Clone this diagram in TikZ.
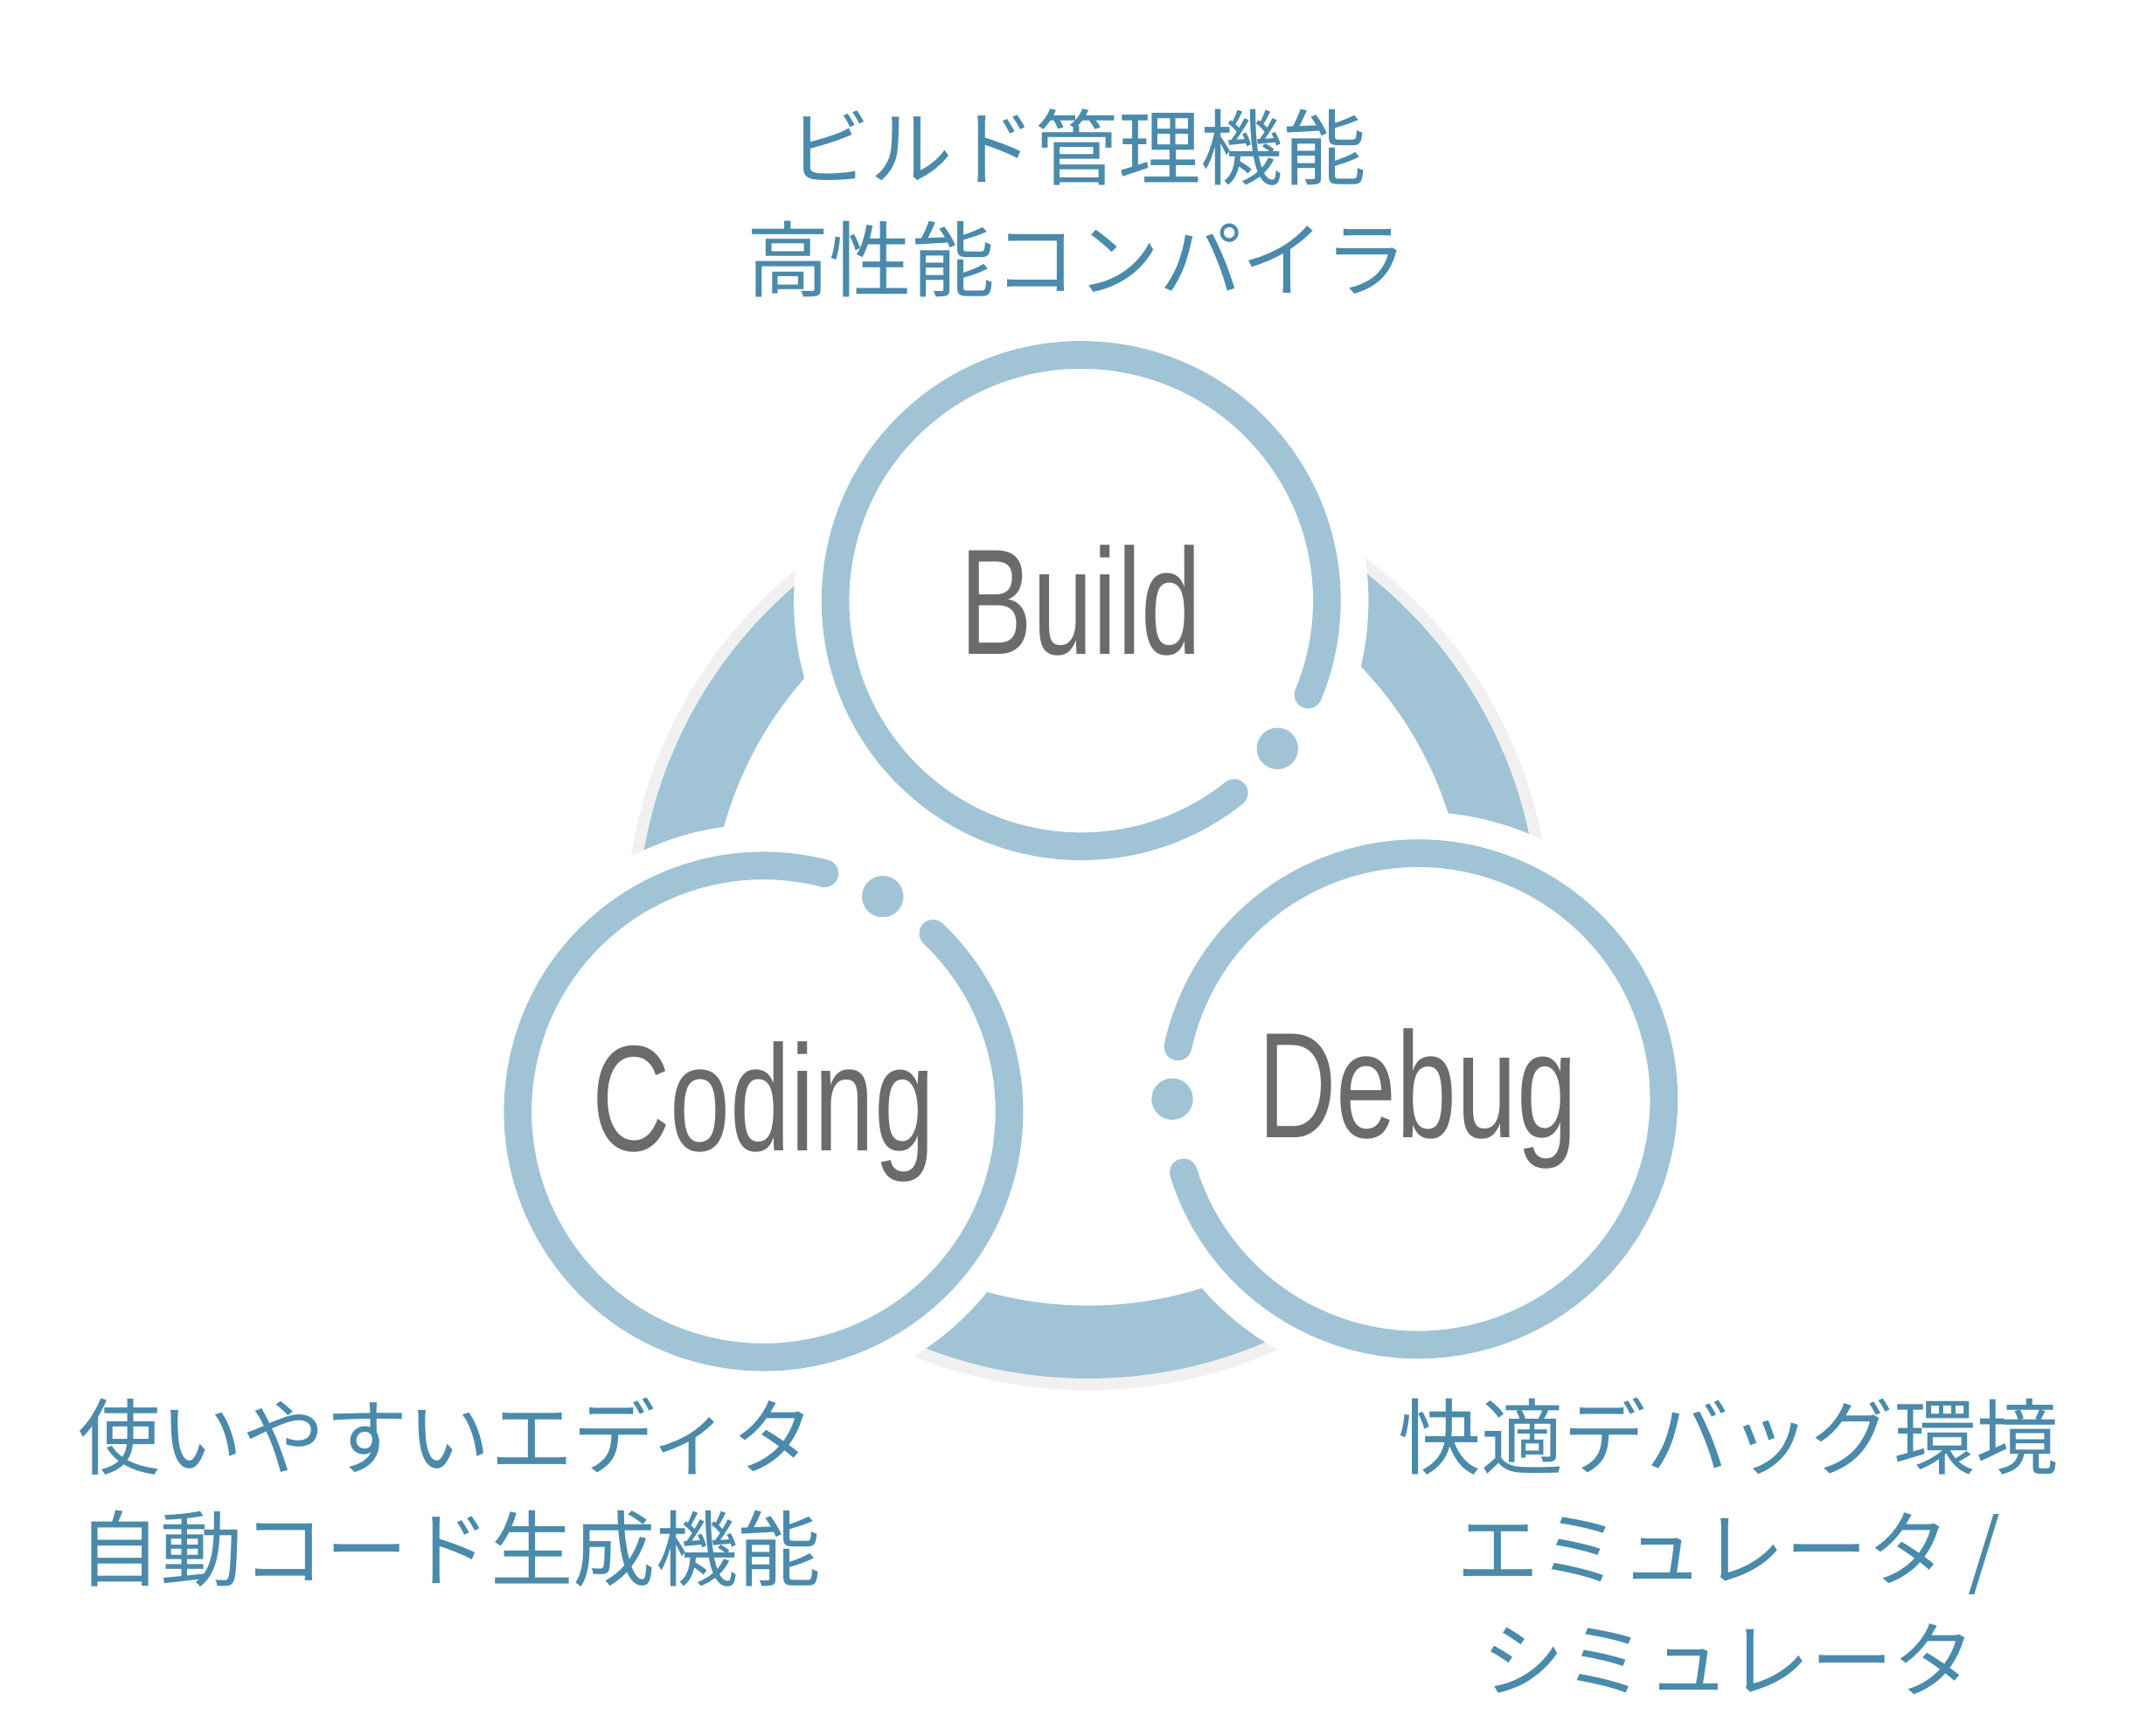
\documentclass[tikz,border=0pt]{standalone}
\usepackage{fontspec}
\newfontfamily\condfont[FakeStretch=0.72]{Liberation Sans}
\newfontfamily\cjk{Noto Sans CJK JP}
\usetikzlibrary{positioning}
\definecolor{ringblue}{HTML}{A0C4D6}
\definecolor{textblue}{HTML}{4A8AAB}
\definecolor{wordgray}{HTML}{6B6B6B}
\tikzset{
  ring/.style={draw=ringblue, line width=5.7pt, line cap=round},
  halo/.style={draw=white, fill=white, line width=8pt},
  dot/.style={fill=ringblue},
  word/.style={font=\condfont\fontsize{31}{31}\selectfont, text=wordgray},
  note/.style={font=\cjk\fontsize{17}{23}\selectfont, text=textblue, align=center}
}
\begin{document}
\begin{tikzpicture}[x=0.01cm, y=-0.01cm]
  \useasboundingbox (0,0) rectangle (1560,1257);
  % big ring with soft shadow
  \draw[gray!12, line width=17pt] (788,672) circle (305);
  \draw[ringblue, line width=15pt] (788,672) circle (300);

  % Build
  \draw[halo] (783,435) circle (194);
  \draw[ring] (783,435) ++(51.5:178) arc[start angle=51.5, end angle=382.5, radius=178];
  \fill[dot] (783,435) ++(37:178) circle (15);
  \node[word] (build) at (783,435) {Build};

  % Coding
  \draw[halo] (553,805) circle (194);
  \draw[ring] (553,805) ++(-75.6:178) arc[start angle=-75.6, end angle=-406.4, radius=178];
  \fill[dot] (553,805) ++(-61:178) circle (15);
  \node[word] (coding) at (553,805) {Coding};

  % Debug
  \draw[halo] (1027,796) circle (194);
  \draw[ring] (1027,796) ++(-197.4:178) arc[start angle=-197.4, end angle=-527.7, radius=178];
  \fill[dot] (1027,796) ++(180:178) circle (15);
  \node[word] (debug) at (1027,796) {Debug};

  % notes
  \node[note] (buildnote) at (780,147) {ビルド管理機能\\高性能コンパイラ};
  \node[note, align=left, anchor=west] (codingnote) at (44,1081) {使いやすいエディタ\\自動コード生成機能};
  \node[note] (debugnote) at (1252,1120) {快適デバッグ環境\\エミュレータ /\\シミュレータ};
\end{tikzpicture}
\end{document}
